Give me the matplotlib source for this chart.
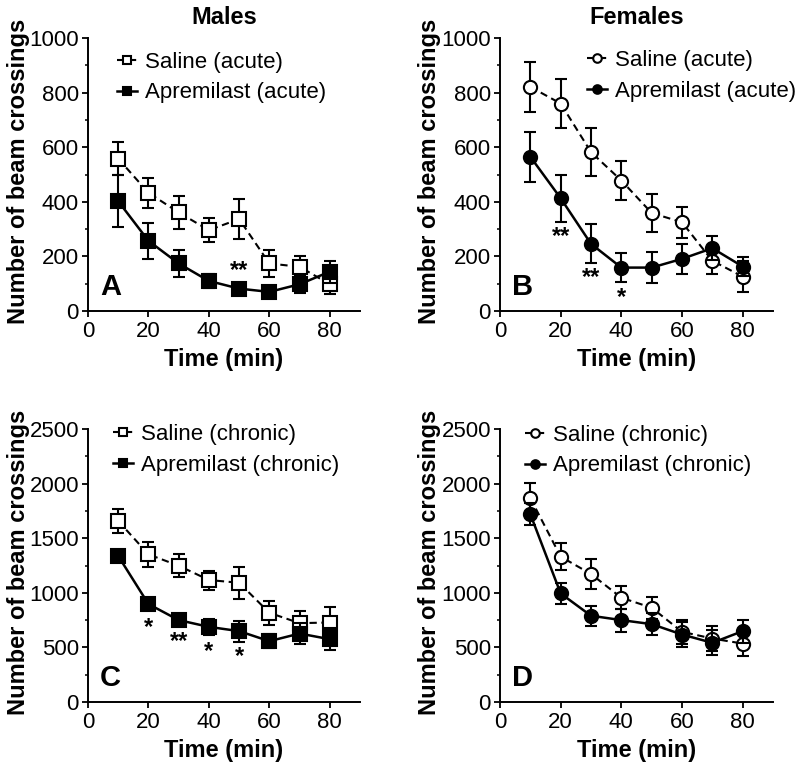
import matplotlib
matplotlib.use('Agg')
from matplotlib import pyplot as plt

plt.rcParams['font.family'] = ['Liberation Sans', 'DejaVu Sans']

time_min = [10, 20, 30, 40, 50, 60, 70, 80]

# A: males, acute
sal_a = [558, 433, 361, 296, 337, 174, 162, 98]
sal_a_err = [60, 55, 60, 45, 73, 48, 40, 35]
apr_a = [402, 257, 174, 110, 82, 70, 98, 144]
apr_a_err = [95, 65, 48, 25, 15, 10, 32, 40]

# B: females, acute
sal_b = [821, 760, 582, 478, 359, 325, 184, 126]
sal_b_err = [92, 88, 88, 72, 68, 57, 48, 57]
apr_b = [565, 413, 246, 159, 159, 191, 230, 163]
apr_b_err = [92, 86, 72, 54, 58, 55, 43, 33]

# C: males, chronic
sal_c = [1658, 1352, 1248, 1117, 1092, 817, 722, 728]
sal_c_err = [110, 112, 107, 87, 145, 112, 115, 140]
apr_c = [1337, 897, 750, 688, 649, 557, 627, 575]
apr_c_err = [30, 40, 55, 70, 95, 65, 95, 100]

# D: females, chronic
sal_d = [1867, 1331, 1172, 955, 863, 643, 581, 535]
sal_d_err = [140, 122, 135, 105, 100, 110, 115, 110]
apr_d = [1720, 994, 790, 750, 713, 618, 542, 649]
apr_d_err = [100, 95, 90, 105, 100, 112, 115, 105]

# significance marks: (x, y, text)
stars_a = [(50, 150, '**')]
stars_b = [(20, 273, '**'), (30, 122, '**'), (40, 50, '*')]
stars_c = [(20, 680, '*'), (30, 550, '**'), (40, 460, '*'), (50, 415, '*')]
stars_d = []

fig = plt.figure(figsize=(8, 7.71), dpi=100)

W, H = 800.0, 771.0


def make_axes(left, right, top, bottom):
    return fig.add_axes([left / W, 1 - bottom / H, (right - left) / W, (bottom - top) / H])


def draw_panel(ax, sal, sal_err, apr, apr_err, marker, tag, ymax, ystep, stars,
               leg_xy, title=None):
    eb_sal = ax.errorbar(time_min, sal, yerr=sal_err, color='black', lw=1.5,
                         ls=(0, (3.5, 2.2)), marker=marker, ms=9.5, mfc='white',
                         mec='black', mew=1.5, capsize=4.5, capthick=1.5,
                         elinewidth=1.5, zorder=2)
    eb_apr = ax.errorbar(time_min, apr, yerr=apr_err, color='black', lw=1.8,
                         marker=marker, ms=9.5, mfc='black', mec='black', mew=1.5,
                         capsize=4.5, capthick=1.5, elinewidth=1.5, zorder=3)
    for x, y, s in stars:
        ax.text(x, y, s, ha='center', va='center', fontsize=17, fontweight='bold')

    ax.set_xlim(0, 90)
    ax.set_ylim(0, ymax)
    ax.set_xticks([0, 20, 40, 60, 80])
    ax.set_yticks(range(0, ymax + 1, ystep))
    ax.set_yticks(range(ystep // 2, ymax, ystep), minor=True)
    ax.spines['top'].set_visible(False)
    ax.spines['right'].set_visible(False)
    for sp in ('left', 'bottom'):
        ax.spines[sp].set_linewidth(1.4)
    ax.tick_params(which='major', length=4.5, width=1.3, labelsize=16, pad=2)
    ax.tick_params(axis='x', pad=3)
    ax.tick_params(which='minor', length=2.5, width=1.1)
    ax.set_xlabel('Time (min)', fontsize=17, fontweight='bold', labelpad=4)
    ax.set_ylabel('Number of beam crossings', fontsize=17, fontweight='bold')
    ax.yaxis.set_label_coords(-0.215, 0.51)
    if title:
        ax.set_title(title, fontsize=17, fontweight='bold', pad=10)

    # legend shows only line + marker, no error bars
    leg = ax.legend([eb_sal.lines[0], eb_apr.lines[0]],
                    ['Saline (%s)' % tag, 'Apremilast (%s)' % tag],
                    loc='upper left', bbox_to_anchor=leg_xy, frameon=False,
                    fontsize=16, handlelength=0.9, handletextpad=0.36,
                    labelspacing=0.43, borderaxespad=0.0, borderpad=0.0,
                    markerscale=0.65)
    return leg


ax_a = make_axes(88, 360, 38, 311)
ax_b = make_axes(500, 773, 38, 311)
ax_c = make_axes(88, 360, 429, 702)
ax_d = make_axes(500, 773, 429, 702)

draw_panel(ax_a, sal_a, sal_a_err, apr_a, apr_a_err, 's', 'acute', 1000, 200,
           stars_a, (0.107, 0.949), 'Males')
draw_panel(ax_b, sal_b, sal_b_err, apr_b, apr_b_err, 'o', 'acute', 1000, 200,
           stars_b, (0.32, 0.956), 'Females')
draw_panel(ax_c, sal_c, sal_c_err, apr_c, apr_c_err, 's', 'chronic', 2500, 500,
           stars_c, (0.092, 1.018))
draw_panel(ax_d, sal_d, sal_d_err, apr_d, apr_d_err, 'o', 'chronic', 2500, 500,
           stars_d, (0.092, 1.015))

for ax, letter in ((ax_a, 'A'), (ax_b, 'B'), (ax_c, 'C'), (ax_d, 'D')):
    ax.text(0.083, 0.088, letter, transform=ax.transAxes, ha='center', va='center',
            fontsize=21, fontweight='bold')

fig.savefig('out.png', dpi=100)
